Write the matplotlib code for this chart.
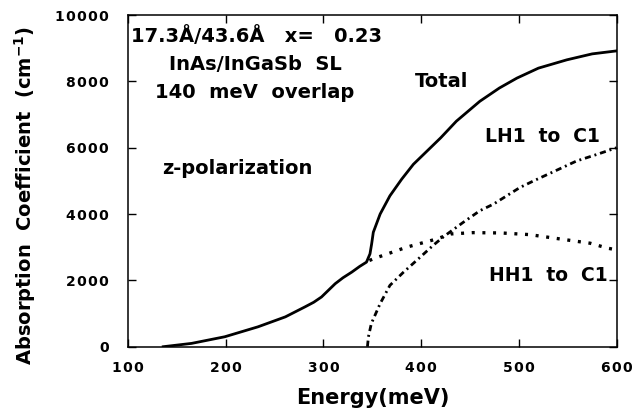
import matplotlib
matplotlib.use("Agg")
import matplotlib.pyplot as plt
from matplotlib.ticker import FuncFormatter

plt.rcParams['font.family'] = ['DejaVu Sans']
plt.rcParams['font.weight'] = 'bold'
plt.rcParams['mathtext.default'] = 'bf'

# Total absorption (meV, cm^-1)
total_e = [136, 165, 199, 233, 261, 281, 290, 298, 305, 312, 320, 329, 337, 344,
           347.6, 349.3, 351, 358, 368, 380, 392, 406, 420, 436, 460, 480, 498, 520,
           549, 575, 600]
total_a = [0, 100, 300, 600, 900, 1200, 1340, 1500, 1700, 1900, 2080, 2250, 2420, 2550,
           2800, 3100, 3450, 4000, 4550, 5050, 5500, 5900, 6300, 6800, 7400, 7800, 8100,
           8400, 8650, 8830, 8920]

# HH1 to C1 (dotted)
hh_e = [347, 351, 385, 416, 430, 453, 482, 511, 542, 573, 591, 600]
hh_a = [2600, 2650, 3000, 3250, 3400, 3440, 3430, 3380, 3250, 3120, 2970, 2920]

# LH1 to C1 (dash-dot)
lh_e = [345, 346, 349, 358, 368, 382, 399, 412, 423, 443, 460, 474, 501, 515, 540,
        559, 580, 600]
lh_a = [0, 300, 700, 1300, 1850, 2250, 2700, 3050, 3320, 3750, 4100, 4300, 4800, 5000,
        5340, 5600, 5800, 6000]

x_ticks = [100, 200, 300, 400, 500, 600]
y_ticks = [0, 2000, 4000, 6000, 8000, 10000]

fig = plt.figure(figsize=(6.37, 4.13), dpi=100)
ax = fig.add_axes([0.201, 0.1605, 0.767, 0.803])

ax.plot(total_e, total_a, color='black', lw=2.0, solid_joinstyle='round')
ax.plot(hh_e, hh_a, color='black', lw=2.4, linestyle=(0, (0.9, 2.3)))
ax.plot(lh_e, lh_a, color='black', lw=2.0, linestyle=(0, (2.2, 1.4, 0.7, 1.4)))

ax.set_xlim(100, 600)
ax.set_ylim(0, 10000)
ax.set_xticks(x_ticks)
ax.set_yticks(y_ticks)

# spread the digits a little, like the original typesetting
spaced = FuncFormatter(lambda v, p: '\u200a'.join(str(int(v))))
ax.xaxis.set_major_formatter(spaced)
ax.yaxis.set_major_formatter(spaced)

ax.tick_params(direction='in', length=6, width=1, top=True, right=True, labelsize=10)
ax.tick_params(axis='x', pad=10)
ax.tick_params(axis='y', pad=14)
for lab in ax.get_xticklabels() + ax.get_yticklabels():
    lab.set_fontweight('bold')
for s in ax.spines.values():
    s.set_linewidth(1.1)

ax.set_xlabel('Energy(meV)', fontsize=15, fontweight='bold', labelpad=10)
ax.set_ylabel('Absorption  Coefficient  (cm$^{-1}$)', fontsize=14, fontweight='bold')
ax.yaxis.set_label_coords(-0.184, 0.457)

txt = dict(fontsize=14, fontweight='bold', color='black', va='baseline',
           transform=ax.transAxes)
ax.text(0.006, 0.9195, '17.3Å/43.6Å   x=   0.23', ha='left', **txt)
ax.text(0.26, 0.834, 'InAs/InGaSb  SL', ha='center', **txt)
ax.text(0.26, 0.749, '140  meV  overlap', ha='center', **txt)
ax.text(0.0696, 0.521, 'z-polarization', ha='left', **txt)
ax.text(0.587, 0.784, 'Total', ha='left', **txt)
ax.text(0.7305, 0.618, 'LH1  to  C1', ha='left', fontsize=13.5, fontweight='bold',
        va='baseline', transform=ax.transAxes)
ax.text(0.738, 0.1996, 'HH1  to  C1', ha='left', fontsize=13.5, fontweight='bold',
        va='baseline', transform=ax.transAxes)

fig.savefig('out.png', dpi=100)
